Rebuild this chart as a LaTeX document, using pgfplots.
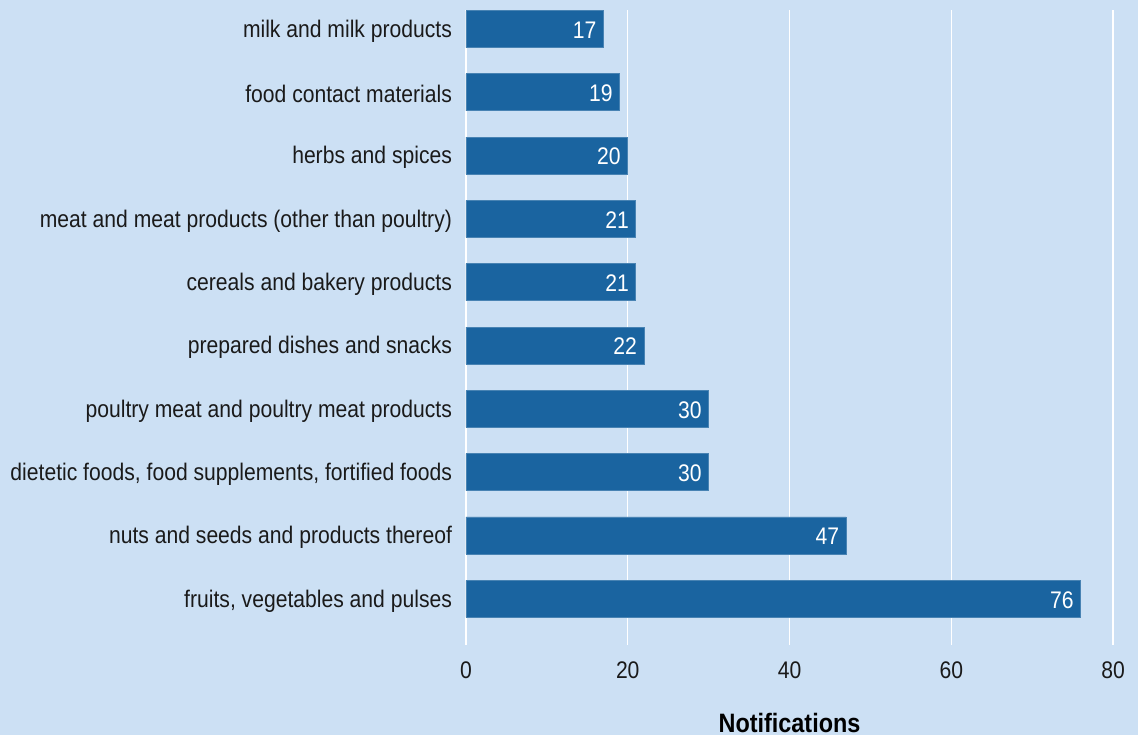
\documentclass[border=0pt]{standalone}
\usepackage{pgfplots}
\pgfplotsset{compat=1.18}
\usepackage{fontspec}
\setmainfont{Liberation Sans}[FakeStretch=0.88]
\definecolor{bg}{HTML}{CCE0F4}
\definecolor{bar}{HTML}{1A64A0}
\definecolor{txt}{HTML}{1A1A1A}
\begin{document}
\begin{tikzpicture}
\fill[bg] (-233pt,-45pt) rectangle (336pt,322.5pt);
\path[use as bounding box] (-233pt,-45pt) rectangle (336pt,322.5pt);
\begin{axis}[
  at={(0,0)}, anchor=south west,
  scale only axis,
  width=323.5pt, height=317.5pt,
  xbar, bar width=18.5pt,
  xmin=0, xmax=80,
  ymin=-0.73, ymax=9.3,
  axis line style={draw=none},
  major tick length=0pt,
  xtick={0,20,40,60,80},
  xmajorgrids, grid style={white, line width=0.6pt},
  ytick={0,...,9},
  yticklabels={{fruits, vegetables and pulses},{nuts and seeds and products thereof},{dietetic foods, food supplements, fortified foods},{poultry meat and poultry meat products},{prepared dishes and snacks},{cereals and bakery products},{meat and meat products (other than poultry)},{herbs and spices},{food contact materials},{milk and milk products}},
  ticklabel style={font=\fontsize{12}{14}\selectfont, text=txt},
  yticklabel style={xshift=-3.5pt, yshift=-1pt},
  xticklabel style={yshift=-5pt},
  /pgf/number format/assume math mode=true,
  xlabel={\textbf{Notifications}},
  xlabel style={font=\fontsize{13.3}{15}\selectfont, text=black, at={(axis description cs:0.5,0)}, anchor=base, yshift=-43.5pt},
  nodes near coords,
  every node near coord/.append style={anchor=east, text=white, font=\fontsize{12}{14}\selectfont, yshift=-0.5pt},
  clip=false,
]
\addplot[fill=bar, draw=bar!80!white, line width=0.4pt] coordinates {
(76,0) (47,1) (30,2) (30,3) (22,4) (21,5) (21,6) (20,7) (19,8) (17,9)};
\end{axis}
\end{tikzpicture}
\end{document}
